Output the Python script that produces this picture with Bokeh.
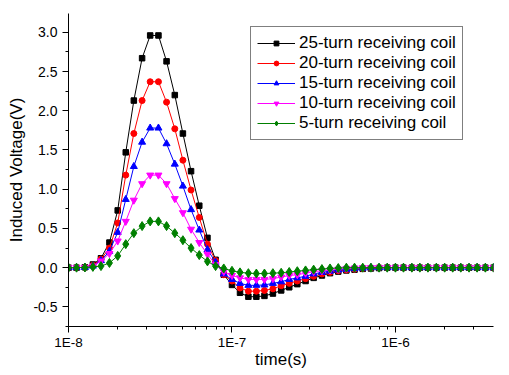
from bokeh.plotting import figure
from bokeh.models import (Range1d, FixedTicker, SingleIntervalTicker, CustomJSTickFormatter,
                          NumeralTickFormatter, Legend, LegendItem)
from bokeh.embed import file_html
from bokeh.resources import INLINE

# ---- data ----
time_s = [
    1.00e-8, 1.12e-8, 1.26e-8, 1.41e-8, 1.58e-8, 1.78e-8, 2.00e-8, 2.24e-8, 2.51e-8, 2.82e-8,
    3.16e-8, 3.55e-8, 3.98e-8, 4.47e-8, 5.01e-8, 5.62e-8, 6.31e-8, 7.08e-8, 7.94e-8, 8.91e-8,
    1.00e-7, 1.12e-7, 1.26e-7, 1.41e-7, 1.58e-7, 1.78e-7, 2.00e-7, 2.24e-7, 2.51e-7, 2.82e-7,
    3.16e-7, 3.55e-7, 3.98e-7, 4.47e-7, 5.01e-7, 5.62e-7, 6.31e-7, 7.08e-7, 7.94e-7, 8.91e-7,
    1.00e-6, 1.12e-6, 1.26e-6, 1.41e-6, 1.58e-6, 1.78e-6, 2.00e-6, 2.24e-6, 2.51e-6, 2.82e-6,
    3.16e-6, 3.55e-6, 3.98e-6,
]

coil_25 = [
    0.0, 0.0, 0.005, 0.04, 0.12, 0.32, 0.73, 1.47, 2.13, 2.67,
    2.96, 2.96, 2.63, 2.20, 1.71, 1.23, 0.79, 0.38, 0.10, -0.09,
    -0.22, -0.32, -0.37, -0.37, -0.36, -0.33, -0.29, -0.25, -0.21, -0.17,
    -0.13, -0.10, -0.07, -0.05, -0.035, -0.025, -0.015, -0.01, -0.005, 0.0,
    0.0, 0.0, 0.0, 0.0, 0.0, 0.0, 0.0, 0.0, 0.0, 0.0,
    0.0, 0.0, 0.0,
]
coil_20 = [
    0.0, 0.0, 0.005, 0.03, 0.11, 0.25, 0.57, 1.18, 1.71, 2.13,
    2.37, 2.37, 2.11, 1.77, 1.37, 0.99, 0.64, 0.30, 0.09, -0.09,
    -0.17, -0.26, -0.30, -0.30, -0.29, -0.27, -0.23, -0.20, -0.17, -0.14,
    -0.11, -0.08, -0.06, -0.04, -0.03, -0.02, -0.01, -0.005, 0.0, 0.0,
    0.0, 0.0, 0.0, 0.0, 0.0, 0.0, 0.0, 0.0, 0.0, 0.0,
    0.0, 0.0, 0.0,
]
coil_15 = [
    0.0, 0.0, 0.004, 0.02, 0.09, 0.21, 0.45, 0.87, 1.29, 1.60,
    1.78, 1.78, 1.58, 1.32, 1.04, 0.74, 0.48, 0.23, 0.07, -0.08,
    -0.15, -0.20, -0.225, -0.225, -0.22, -0.20, -0.18, -0.15, -0.13, -0.11,
    -0.08, -0.06, -0.045, -0.03, -0.02, -0.012, -0.006, 0.0, 0.0, 0.0,
    0.0, 0.0, 0.0, 0.0, 0.0, 0.0, 0.0, 0.0, 0.0, 0.0,
    0.0, 0.0, 0.0,
]
coil_10 = [
    0.0, 0.0, 0.003, 0.02, 0.085, 0.18, 0.34, 0.59, 0.86, 1.07,
    1.18, 1.18, 1.07, 0.88, 0.70, 0.49, 0.32, 0.17, 0.04, -0.05,
    -0.10, -0.13, -0.15, -0.15, -0.15, -0.14, -0.12, -0.10, -0.09, -0.07,
    -0.05, -0.04, -0.03, -0.02, -0.01, -0.005, 0.0, 0.0, 0.0, 0.0,
    0.0, 0.0, 0.0, 0.0, 0.0, 0.0, 0.0, 0.0, 0.0, 0.0,
    0.0, 0.0, 0.0,
]
coil_5 = [
    0.0, 0.0, 0.002, 0.01, 0.02, 0.06, 0.15, 0.30, 0.44, 0.53,
    0.59, 0.59, 0.53, 0.44, 0.35, 0.25, 0.16, 0.08, 0.02, -0.01,
    -0.04, -0.06, -0.07, -0.075, -0.075, -0.07, -0.065, -0.055, -0.045, -0.035,
    -0.025, -0.018, -0.01, -0.005, 0.0, 0.0, 0.0, 0.0, 0.0, 0.0,
    0.0, 0.0, 0.0, 0.0, 0.0, 0.0, 0.0, 0.0, 0.0, 0.0,
    0.0, 0.0, 0.0,
]

labels = ["25-turn receiving coil", "20-turn receiving coil", "15-turn receiving coil",
          "10-turn receiving coil", "5-turn receiving coil"]
series = [coil_25, coil_20, coil_15, coil_10, coil_5]
colors = ["#000000", "#ff0000", "#0000ff", "#ff00ff", "#008000"]
markers = ["square", "circle", "triangle", "inverted_triangle", "diamond"]
sizes = [5.5, 6, 7, 7, 9]

major_x = [1e-8, 1e-7, 1e-6]
minor_x = [m * d for d in (1e-8, 1e-7, 1e-6) for m in range(2, 10) if m * d < 4e-6]

FONT = "Liberation Sans"

p = figure(width=509, height=375, x_axis_type="log",
           x_range=Range1d(1e-8, 3.98e-6), y_range=Range1d(-0.75, 3.24),
           output_backend="svg", toolbar_location=None,
           min_border_left=68, min_border_right=16, min_border_top=13, min_border_bottom=49)
p.outline_line_color = None
p.xgrid.visible = False
p.ygrid.visible = False
p.background_fill_color = "white"
p.border_fill_color = "white"

items = []
for lab, ys, c, m, s in zip(labels, series, colors, markers, sizes):
    ln = p.line(time_s, ys, line_color=c, line_width=1)
    sc = p.scatter(time_s, ys, marker=m, size=s, fill_color=c, line_color=c)
    items.append(LegendItem(label=lab, renderers=[ln, sc]))

xa = p.xaxis[0]
xa.ticker = FixedTicker(ticks=major_x, minor_ticks=minor_x)
xa.formatter = CustomJSTickFormatter(code="return '1E' + Math.round(Math.log10(tick));")
xa.axis_label = "time(s)"

ya = p.yaxis[0]
ya.ticker = SingleIntervalTicker(interval=0.5, num_minor_ticks=2)
ya.formatter = NumeralTickFormatter(format="0.0")
ya.axis_label = "Induced Voltage(V)"

for ax, tsize in ((xa, "13.5px"), (ya, "14px")):
    ax.axis_line_color = "black"
    ax.axis_line_width = 1
    ax.major_tick_line_color = "black"
    ax.minor_tick_line_color = "black"
    ax.major_tick_in = 0
    ax.major_tick_out = 6
    ax.minor_tick_in = 0
    ax.minor_tick_out = 3
    ax.major_label_text_font = FONT
    ax.major_label_text_font_size = tsize
    ax.major_label_text_color = "black"
    ax.axis_label_text_font = FONT
    ax.axis_label_text_font_size = "17px"
    ax.axis_label_text_font_style = "normal"
    ax.axis_label_text_color = "black"

xa.major_label_standoff = 2
xa.axis_label_standoff = -3
ya.major_label_standoff = 5
ya.axis_label_standoff = 4

legend = Legend(items=items, location=(182, 186),
                label_text_font=FONT, label_text_font_size="17px", label_text_color="black",
                glyph_width=38, glyph_height=12, label_height=20, label_standoff=4,
                spacing=0, padding=6, margin=0,
                border_line_color="black", border_line_width=1,
                background_fill_color="white", background_fill_alpha=1.0)
p.add_layout(legend)

open("out.html", "w").write(file_html(p, INLINE))
